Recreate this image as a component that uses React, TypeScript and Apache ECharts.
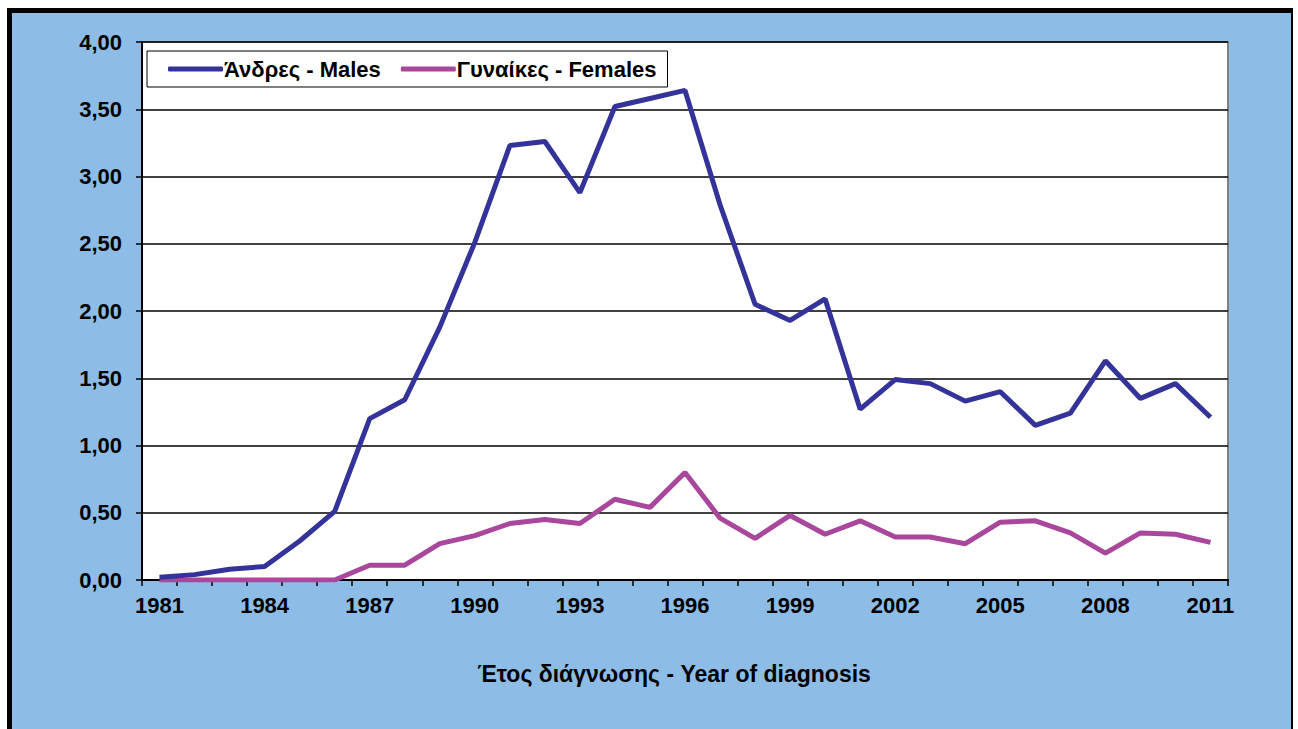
import React, { useEffect, useRef } from "react";
import * as echarts from "echarts";

const years = [
  "1981","1982","1983","1984","1985","1986","1987","1988","1989","1990",
  "1991","1992","1993","1994","1995","1996","1997","1998","1999","2000",
  "2001","2002","2003","2004","2005","2006","2007","2008","2009","2010","2011",
];
const males = [
  0.02, 0.04, 0.08, 0.1, 0.29, 0.51, 1.2, 1.34, 1.88, 2.51,
  3.23, 3.26, 2.88, 3.52, 3.58, 3.64, 2.79, 2.05, 1.93, 2.09,
  1.27, 1.49, 1.46, 1.33, 1.4, 1.15, 1.24, 1.63, 1.35, 1.46, 1.21,
];
const females = [
  0, 0, 0, 0, 0, 0, 0.11, 0.11, 0.27, 0.33,
  0.42, 0.45, 0.42, 0.6, 0.54, 0.8, 0.46, 0.31, 0.48, 0.34,
  0.44, 0.32, 0.32, 0.27, 0.43, 0.44, 0.35, 0.2, 0.35, 0.34, 0.28,
];
const maleName = "Άνδρες - Males";
const femaleName = "Γυναίκες - Females";
const xTitle = "Έτος διάγνωσης - Year of diagnosis";

const FONT = "'Liberation Sans', Arial, sans-serif";
const BG = "#8DBDE6";

export default function App() {
  const ref = useRef<HTMLDivElement>(null);
  useEffect(() => {
    const chart = echarts.init(ref.current!, null, { renderer: "svg" });
    chart.setOption({
      animation: false,
      backgroundColor: "#ffffff",
      graphic: [
        { type: "rect", z: -10, shape: { x: 7, y: 8, width: 1286, height: 730 }, style: { fill: BG } },
        { type: "rect", z: -9, shape: { x: 7, y: 8, width: 1286, height: 5 }, style: { fill: "#000" } },
        { type: "rect", z: -9, shape: { x: 7, y: 8, width: 5, height: 730 }, style: { fill: "#000" } },
        { type: "rect", z: -9, shape: { x: 1291, y: 8, width: 2, height: 730 }, style: { fill: "#000" } },
        {
          type: "text",
          x: 674,
          y: 674,
          style: {
            text: xTitle,
            font: `bold 23px ${FONT}`,
            fill: "#000",
            align: "center",
            verticalAlign: "middle",
          },
        },
      ],
      legend: {
        left: 147,
        top: 51,
        orient: "horizontal",
        backgroundColor: "#fff",
        borderColor: "#000",
        borderWidth: 1,
        padding: [7, 11, 7, 21],
        itemWidth: 55,
        itemHeight: 5,
        itemGap: 20,
        icon: "roundRect",
        textStyle: { fontFamily: FONT, fontWeight: "bold", fontSize: 22, color: "#000", padding: [0, 0, 0, -4] },
        data: [maleName, femaleName],
      },
      grid: {
        left: 142,
        right: 70,
        top: 42,
        bottom: 149,
        show: true,
        backgroundColor: "#fff",
        borderColor: "#808080",
        borderWidth: 2,
      },
      xAxis: {
        type: "category",
        data: years,
        boundaryGap: true,
        axisLine: { lineStyle: { color: "#000", width: 2 } },
        axisTick: { show: true, interval: 0, length: 6, lineStyle: { color: "#000", width: 1.5 } },
        axisLabel: {
          interval: 2,
          margin: 14,
          fontFamily: FONT,
          fontWeight: "bold",
          fontSize: 22,
          color: "#000",
        },
        splitLine: { show: false },
      },
      yAxis: {
        type: "value",
        min: 0,
        max: 4,
        interval: 0.5,
        axisLine: { show: true, lineStyle: { color: "#000", width: 2 } },
        axisTick: { show: true, length: 6, lineStyle: { color: "#000", width: 1.5 } },
        axisLabel: {
          margin: 20,
          fontFamily: FONT,
          fontWeight: "bold",
          fontSize: 22,
          color: "#000",
          formatter: (v: number) => v.toFixed(2).replace(".", ","),
        },
        splitLine: { show: true, lineStyle: { color: "#000", width: 1.5 } },
      },
      series: [
        {
          name: maleName,
          type: "line",
          data: males,
          symbol: "none",
          lineStyle: { color: "#333399", width: 5 },
          itemStyle: { color: "#333399" },
          z: 3,
        },
        {
          name: femaleName,
          type: "line",
          data: females,
          symbol: "none",
          lineStyle: { color: "#A9479C", width: 5 },
          itemStyle: { color: "#A9479C" },
          z: 2,
        },
      ],
    });
    return () => chart.dispose();
  }, []);
  return (
    <div
      ref={ref}
      style={{ position: "fixed", left: 0, top: 0, width: 1298, height: 729 }}
    />
  );
}
